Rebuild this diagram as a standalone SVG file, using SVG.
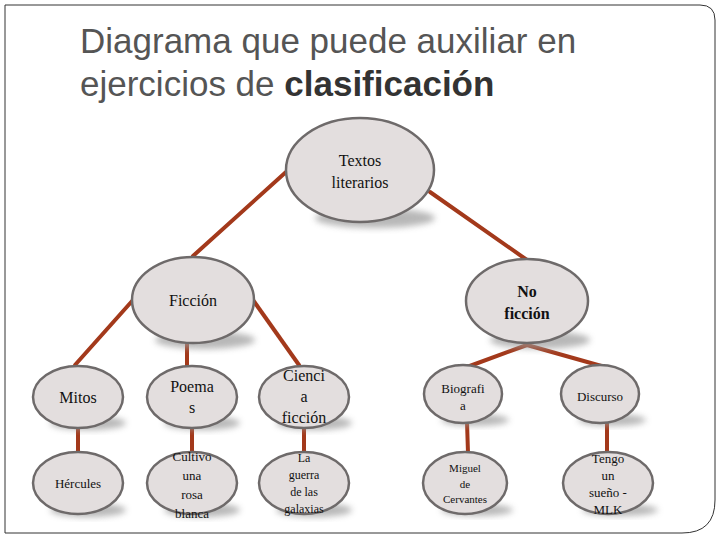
<svg xmlns="http://www.w3.org/2000/svg" width="720" height="540" viewBox="0 0 720 540">
<defs>
<filter id="bl" x="-30%" y="-30%" width="160%" height="160%"><feGaussianBlur stdDeviation="3"/></filter>
</defs>
<style>
.n{fill:#e3dede;stroke:#6e6a6a;stroke-width:2.5}
.sh{fill:#9a9a9a;filter:url(#bl);opacity:.7}
.t{font-family:"Liberation Serif",serif;text-anchor:middle;fill:#111}
.c line{stroke:#a3391b;stroke-width:4;stroke-linecap:round}
</style>
<rect width="720" height="540" fill="#fff"/>
<path d="M5,5 H700 Q715,5 715,20 V500 Q715,533 682,533 H5 Z" fill="none" stroke="#333" stroke-width="1"/>
<g font-family="Liberation Sans,sans-serif" font-size="35" fill="#555">
<text x="80" y="53">Diagrama que puede auxiliar en</text>
<text x="80" y="96">ejercicios de <tspan font-weight="bold" fill="#333">clasificación</tspan></text>
</g>
<g class="c">
<line x1="286" y1="172" x2="193" y2="256"/>
<line x1="430" y1="192" x2="527" y2="260"/>
<line x1="133" y1="300" x2="75" y2="365"/>
<line x1="187" y1="343" x2="187" y2="366"/>
<line x1="253" y1="300" x2="299" y2="365"/>
<line x1="527" y1="345" x2="467" y2="367"/>
<line x1="527" y1="345" x2="605" y2="367"/>
<line x1="78" y1="425" x2="78" y2="455"/>
<line x1="192" y1="425" x2="192" y2="455"/>
<line x1="304" y1="425" x2="304" y2="455"/>
<line x1="467" y1="422" x2="468" y2="453"/>
<line x1="607" y1="422" x2="607" y2="453"/>
</g>
<g id="textos"><ellipse class="sh" cx="375" cy="218" rx="60" ry="10"/><ellipse class="n" cx="360" cy="170" rx="74" ry="52"/><text class="t" font-size="16" x="360" y="166">Textos</text><text class="t" font-size="16" x="360" y="188">literarios</text></g>
<g id="ficcion"><ellipse class="sh" cx="205" cy="340" rx="50" ry="9"/><ellipse class="n" cx="193" cy="300" rx="61" ry="43"/><text class="t" font-size="16" x="193" y="306">Ficción</text></g>
<g id="noficcion"><ellipse class="sh" cx="540" cy="340" rx="50" ry="9"/><ellipse class="n" cx="527" cy="301" rx="61" ry="42"/><text class="t" font-size="16" font-weight="bold" x="527" y="297">No</text><text class="t" font-size="16" font-weight="bold" x="527" y="319">ficción</text></g>
<g id="mitos"><ellipse class="sh" cx="88" cy="423" rx="38" ry="7"/><ellipse class="n" cx="78" cy="397" rx="45" ry="31"/><text class="t" font-size="16" x="78" y="403">Mitos</text></g>
<g id="poema"><ellipse class="sh" cx="202" cy="423" rx="38" ry="7"/><ellipse class="n" cx="192" cy="397" rx="45" ry="31"/><text class="t" font-size="16" x="192" y="392">Poema</text><text class="t" font-size="16" x="192" y="413">s</text></g>
<g id="ciencia"><ellipse class="sh" cx="314" cy="423" rx="38" ry="7"/><ellipse class="n" cx="304" cy="397" rx="45" ry="31"/><text class="t" font-size="16" x="304" y="381">Cienci</text><text class="t" font-size="16" x="304" y="402">a</text><text class="t" font-size="16" x="304" y="423">ficción</text></g>
<g id="biografia"><ellipse class="sh" cx="475" cy="420" rx="34" ry="6"/><ellipse class="n" cx="463" cy="394" rx="39" ry="29"/><text class="t" font-size="13" x="463" y="393">Biografi</text><text class="t" font-size="13" x="463" y="410">a</text></g>
<g id="discurso"><ellipse class="sh" cx="612" cy="420" rx="34" ry="6"/><ellipse class="n" cx="600" cy="394" rx="39" ry="29"/><text class="t" font-size="13" x="600" y="401">Discurso</text></g>
<g id="hercules"><ellipse class="sh" cx="88" cy="510" rx="38" ry="7"/><ellipse class="n" cx="78" cy="483" rx="45" ry="31"/><text class="t" font-size="13" x="78" y="488">Hércules</text></g>
<g id="cultivo"><ellipse class="sh" cx="202" cy="510" rx="38" ry="7"/><ellipse class="n" cx="192" cy="483" rx="45" ry="31"/><text class="t" font-size="13" x="192" y="461">Cultivo</text><text class="t" font-size="13" x="192" y="480">una</text><text class="t" font-size="13" x="192" y="499">rosa</text><text class="t" font-size="13" x="192" y="518">blanca</text></g>
<g id="guerra"><ellipse class="sh" cx="314" cy="510" rx="38" ry="7"/><ellipse class="n" cx="304" cy="483" rx="45" ry="31"/><text class="t" font-size="12" x="304" y="462">La</text><text class="t" font-size="12" x="304" y="479">guerra</text><text class="t" font-size="12" x="304" y="496">de las</text><text class="t" font-size="12" x="304" y="513">galaxias</text></g>
<g id="miguel"><ellipse class="sh" cx="477" cy="510" rx="36" ry="6"/><ellipse class="n" cx="465" cy="483" rx="42" ry="31"/><text class="t" font-size="11" x="465" y="472">Miguel</text><text class="t" font-size="11" x="465" y="488">de</text><text class="t" font-size="11" x="465" y="503">Cervantes</text></g>
<g id="tengo"><ellipse class="sh" cx="620" cy="510" rx="38" ry="6"/><ellipse class="n" cx="608" cy="483" rx="45" ry="31"/><text class="t" font-size="13" x="608" y="463">Tengo</text><text class="t" font-size="13" x="608" y="480">un</text><text class="t" font-size="13" x="608" y="497">sueño -</text><text class="t" font-size="13" x="608" y="514">MLK</text></g>
</svg>
